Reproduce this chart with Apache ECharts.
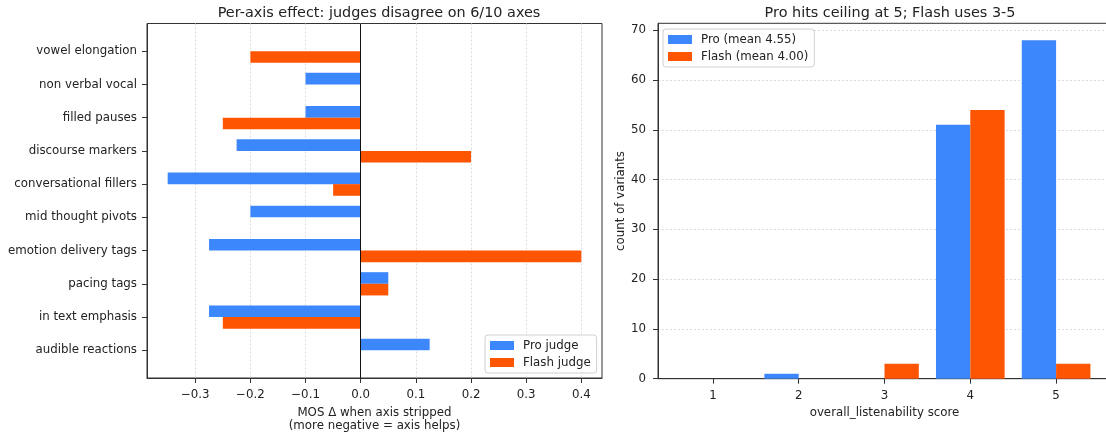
<!DOCTYPE html>
<html>
<head>
<meta charset="utf-8">
<title>judge comparison</title>
<script src="https://cdn.jsdelivr.net/npm/echarts@6/dist/echarts.min.js"></script>
<style>
    html, body { margin: 0; padding: 0; background: #fff; }
    #main { width: 1106px; height: 433px; }
</style>
</head>
<body>
<div id="main"></div>
<script>
//left panel: axes, listed bottom to top
var axisNames = ['audible reactions', 'in text emphasis', 'pacing tags', 'emotion delivery tags', 'mid thought pivots',
    'conversational fillers', 'discourse markers', 'filled pauses', 'non verbal vocal', 'vowel elongation'];
var proDelta = [0.125, -0.275, 0.05, -0.275, -0.2, -0.35, -0.225, -0.1, -0.1, 0];
var flashDelta = [0, -0.25, 0.05, 0.4, 0, -0.05, 0.2, -0.25, 0, -0.2];
var deltaTicks = [-0.3, -0.2, -0.1, 0, 0.1, 0.2, 0.3, 0.4];

//right panel: score histogram
var scores = [1, 2, 3, 4, 5];
var proCounts = [0, 1, 0, 51, 68];
var flashCounts = [0, 0, 3, 54, 3];
var countTicks = [0, 10, 20, 30, 40, 50, 60, 70];

var BLUE = '#3d87fc';
var ORANGE = '#fe5502';
var FONT = 'DejaVu Sans';
var FS = 11.8;
var BAR_H = 0.35;
var BAR_W = 0.4;

//horizontal bar, offset along the category axis
function hbar(offset) {
    return function(params, api) {
        var y = api.value(1);
        var p0 = api.coord([0, y + offset + BAR_H]);
        var p1 = api.coord([api.value(0), y + offset]);
        return {
            type: 'rect',
            shape: {
                x: Math.min(p0[0], p1[0]),
                y: p0[1],
                width: Math.abs(p1[0] - p0[0]),
                height: p1[1] - p0[1]
            },
            style: api.style()
        };
    };
}

//vertical bar next to the score
function vbar(offset) {
    return function(params, api) {
        var x = api.value(0);
        var p0 = api.coord([x + offset, api.value(1)]);
        var p1 = api.coord([x + offset + BAR_W, 0]);
        return {
            type: 'rect',
            shape: {
                x: p0[0],
                y: p0[1],
                width: p1[0] - p0[0],
                height: p1[1] - p0[1]
            },
            style: api.style()
        };
    };
}

function pairs(xs, ys) {
    var out = [];
    for (var i = 0; i < xs.length; i++) {
        out.push([xs[i], ys[i]]);
    }
    return out;
}

function axisIndexes() {
    var out = [];
    for (var i = 0; i < axisNames.length; i++) out.push(i);
    return out;
}

function ticks(values) {
    return { show: true, inside: false, length: 5, customValues: values, lineStyle: { color: '#333', width: 1 } };
}

var lineStyle = { show: true, onZero: false, lineStyle: { color: '#333', width: 1 } };
var gridDots = { show: true, lineStyle: { color: '#dcdcdc', width: 1, type: [2, 2] } };
var nameText = { fontFamily: FONT, fontSize: FS, color: '#222', lineHeight: 12.5 };
var legendText = { fontFamily: FONT, fontSize: FS, color: '#222', lineHeight: 13, padding: [0, 0, 0, 4] };
var titleText = { fontFamily: FONT, fontSize: 14.4, fontWeight: 'normal', color: '#222' };

var option = {
    animation: false,
    textStyle: { fontFamily: FONT },
    title: [{
        text: 'Per-axis effect: judges disagree on 6/10 axes',
        left: 374,
        top: 1,
        textAlign: 'center',
        textStyle: titleText
    }, {
        text: 'Pro hits ceiling at 5; Flash uses 3-5',
        left: 885,
        top: 1,
        textAlign: 'center',
        textStyle: titleText
    }],
    legend: [{
        data: ['Pro judge', 'Flash judge'],
        orient: 'vertical',
        left: 485,
        top: 335,
        padding: [4, 6, 4, 5],
        itemWidth: 24,
        itemHeight: 9,
        itemGap: 4,
        icon: 'rect',
        borderColor: '#d0d0d0',
        borderWidth: 1,
        borderRadius: 3,
        backgroundColor: 'rgba(255,255,255,0.8)',
        textStyle: legendText
    }, {
        data: ['Pro (mean 4.55)', 'Flash (mean 4.00)'],
        orient: 'vertical',
        left: 663,
        top: 29,
        padding: [4, 6, 4, 5],
        itemWidth: 24,
        itemHeight: 9,
        itemGap: 4,
        icon: 'rect',
        borderColor: '#d0d0d0',
        borderWidth: 1,
        borderRadius: 3,
        backgroundColor: 'rgba(255,255,255,0.8)',
        textStyle: legendText
    }],
    grid: [{
        left: 147, right: 504, top: 23.5, bottom: 55,
        outerBoundsMode: 'none',
        show: true, borderColor: '#333', borderWidth: 1, backgroundColor: 'transparent'
    }, {
        left: 658, width: 453, top: 23.3, bottom: 54.3,
        outerBoundsMode: 'none',
        show: true, borderColor: '#333', borderWidth: 1, backgroundColor: 'transparent'
    }],
    xAxis: [{
        gridIndex: 0,
        type: 'value',
        min: -0.3875,
        max: 0.4375,
        name: 'MOS Δ when axis stripped\n(more negative = axis helps)',
        nameLocation: 'middle',
        nameGap: 29,
        nameTextStyle: nameText,
        axisLine: lineStyle,
        axisTick: ticks(deltaTicks),
        axisLabel: { customValues: deltaTicks, fontFamily: FONT, fontSize: FS, color: '#222', margin: 11,
            formatter: function(v) { return (v < 0 ? '\u2212' : '') + Math.abs(v).toFixed(1); } },
        splitLine: gridDots
    }, {
        gridIndex: 1,
        type: 'value',
        min: 0.36,
        max: 5.64,
        name: 'overall_listenability score',
        nameLocation: 'middle',
        nameGap: 28,
        nameTextStyle: nameText,
        axisLine: lineStyle,
        axisTick: ticks(scores),
        axisLabel: { customValues: scores, fontFamily: FONT, fontSize: FS, color: '#222', margin: 11 },
        splitLine: { show: false }
    }],
    yAxis: [{
        gridIndex: 0,
        type: 'value',
        min: -0.835,
        max: 9.835,
        axisLine: lineStyle,
        axisTick: ticks(axisIndexes()),
        axisLabel: { customValues: axisIndexes(), fontFamily: FONT, fontSize: FS, color: '#222', margin: 10,
            padding: [3, 0, 0, 0],
            formatter: function(v) { return axisNames[Math.round(v)]; } },
        splitLine: { show: false }
    }, {
        gridIndex: 1,
        type: 'value',
        min: 0,
        max: 71.4,
        name: 'count of variants',
        nameLocation: 'middle',
        nameGap: 30,
        nameTextStyle: nameText,
        axisLine: lineStyle,
        axisTick: ticks(countTicks),
        axisLabel: { customValues: countTicks, fontFamily: FONT, fontSize: FS, color: '#222', margin: 12 },
        splitLine: gridDots
    }],
    series: [{
        name: 'Pro judge',
        type: 'custom',
        xAxisIndex: 0,
        yAxisIndex: 0,
        itemStyle: { color: BLUE },
        encode: { x: 0, y: 1 },
        renderItem: hbar(0),
        data: pairs(proDelta, axisIndexes())
    }, {
        name: 'Flash judge',
        type: 'custom',
        xAxisIndex: 0,
        yAxisIndex: 0,
        itemStyle: { color: ORANGE },
        encode: { x: 0, y: 1 },
        renderItem: hbar(-BAR_H),
        data: pairs(flashDelta, axisIndexes())
    }, {
        //zero reference line
        type: 'line',
        xAxisIndex: 0,
        yAxisIndex: 0,
        data: [],
        z: 5,
        markLine: {
            silent: true,
            symbol: ['none', 'none'],
            label: { show: false },
            lineStyle: { color: '#111', width: 1, type: 'solid' },
            data: [{ xAxis: 0 }]
        }
    }, {
        name: 'Pro (mean 4.55)',
        type: 'custom',
        xAxisIndex: 1,
        yAxisIndex: 1,
        itemStyle: { color: BLUE },
        encode: { x: 0, y: 1 },
        renderItem: vbar(-BAR_W),
        data: pairs(scores, proCounts)
    }, {
        name: 'Flash (mean 4.00)',
        type: 'custom',
        xAxisIndex: 1,
        yAxisIndex: 1,
        itemStyle: { color: ORANGE },
        encode: { x: 0, y: 1 },
        renderItem: vbar(0),
        data: pairs(scores, flashCounts)
    }]
};

var myChart = echarts.init(document.getElementById('main'));
myChart.setOption(option);
</script>
</body>
</html>
